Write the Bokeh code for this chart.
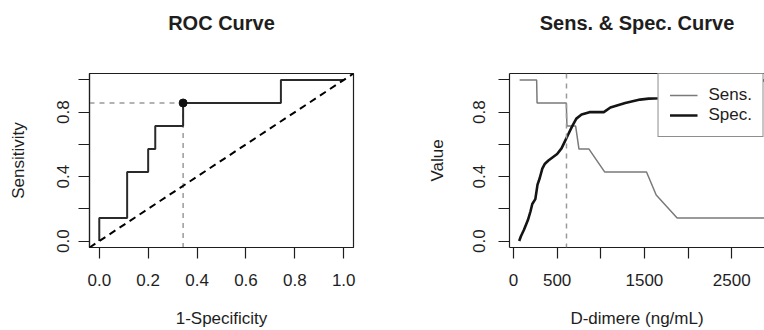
from bokeh.plotting import figure
from bokeh.layouts import row
from bokeh.models import (Range1d, FixedTicker, LinearAxis, Slope, Span,
                          CustomJSTickFormatter)
from bokeh.embed import file_html
from bokeh.resources import INLINE

FONT = "Liberation Sans"
INK = "#1e1e1e"

# ---------------- data ----------------
# ROC curve (1 - specificity, sensitivity)
roc_fpr = [0.0, 0.0, 0.114, 0.200, 0.229, 0.343, 0.743, 1.0]
roc_tpr = [0.0, 0.143, 0.429, 0.571, 0.714, 0.857, 1.0, 1.0]
opt_fpr = 0.343
opt_tpr = 0.857

# Sensitivity / specificity versus D-dimere threshold
sens_x = [70, 265, 270, 605, 612, 712, 750, 865, 1044, 1524, 1635, 1875, 2900]
sens_y = [1.0, 1.0, 0.857, 0.857, 0.714, 0.714, 0.571, 0.571, 0.429, 0.429,
          0.286, 0.143, 0.143]
spec_x = [65, 85, 120, 165, 195, 215, 250, 275, 300, 330, 360, 400, 450, 500,
          550, 590, 625, 670, 720, 780, 870, 1035, 1110, 1280, 1450, 1550,
          1680, 1950, 2300, 2600, 2900]
spec_y = [0.0, 0.03, 0.07, 0.13, 0.185, 0.23, 0.26, 0.35, 0.39, 0.45, 0.48,
          0.50, 0.52, 0.54, 0.575, 0.62, 0.66, 0.71, 0.76, 0.785, 0.80, 0.80,
          0.829, 0.857, 0.878, 0.884, 0.886, 0.914, 0.943, 0.971, 1.0]
cutoff = 607

# titles, ticks, labels
roc_title = "ROC Curve"
ss_title = "Sens. & Spec. Curve"
unit_ticks = [0.0, 0.2, 0.4, 0.6, 0.8, 1.0]
unit_labels = ["0.0", "0.2", "0.4", "0.6", "0.8", "1.0"]
unit_y_major = [0.0, 0.4, 0.8]          # labelled y ticks
unit_y_minor = [0.2, 0.6, 1.0]          # unlabelled y ticks
dd_major = [0, 500, 1500, 2500]         # labelled x ticks
dd_minor = [1000, 2000, 3000]           # unlabelled x ticks
dd_labels = ["0", "500", "1500", "2500"]

# ranges
roc_x_lo, roc_x_hi = -0.04, 1.04
val_y_lo, val_y_hi = -0.04, 1.04
dd_x_lo, dd_x_hi = -46, 2876


def fmt(vals, labs):
    return CustomJSTickFormatter(args=dict(vals=vals, labs=labs), code="""
        for (let i = 0; i < vals.length; i++) {
            if (Math.abs(vals[i] - tick) < 1e-6) return labs[i];
        }
        return String(tick);
    """)


def style_axis(ax, label_standoff, axis_label_standoff):
    ax.axis_line_color = INK
    ax.axis_line_width = 1.2
    ax.major_tick_line_color = INK
    ax.major_tick_line_width = 1.2
    ax.major_tick_out = 11
    ax.major_tick_in = 0
    ax.minor_tick_line_color = INK
    ax.minor_tick_line_width = 1.2
    ax.minor_tick_out = 11
    ax.minor_tick_in = 0
    ax.major_label_text_font = FONT
    ax.major_label_text_font_size = "17px"
    ax.major_label_text_color = INK
    ax.major_label_standoff = label_standoff
    ax.axis_label_text_font = FONT
    ax.axis_label_text_font_size = "17px"
    ax.axis_label_text_font_style = "normal"
    ax.axis_label_text_color = INK
    ax.axis_label_standoff = axis_label_standoff


def base_fig(width, x_lo, x_hi, title, border_right):
    p = figure(width=width, height=330, x_range=Range1d(x_lo, x_hi),
               y_range=Range1d(val_y_lo, val_y_hi),
               output_backend="svg", toolbar_location=None,
               min_border_left=89, min_border_right=border_right,
               min_border_top=73, min_border_bottom=79)
    p.xgrid.visible = False
    p.ygrid.visible = False
    p.background_fill_color = "white"
    p.border_fill_color = "white"
    p.outline_line_color = None
    # top frame edge; its single label (at the frame centre) is the title
    top = LinearAxis(ticker=FixedTicker(ticks=[(x_lo + x_hi) / 2]),
                     formatter=CustomJSTickFormatter(args=dict(t=title),
                                                     code="return t;"),
                     major_label_text_font=FONT,
                     major_label_text_font_size="20px",
                     major_label_text_font_style="bold",
                     major_label_text_color=INK,
                     major_label_standoff=40, major_tick_out=0,
                     major_tick_in=0, major_tick_line_color=None,
                     minor_tick_out=0, minor_tick_in=0,
                     minor_tick_line_color=None,
                     axis_line_color=INK, axis_line_width=1.2)
    p.add_layout(top, "above")
    return p


# ---------------- left: ROC curve ----------------
p1 = base_fig(420, roc_x_lo, roc_x_hi, roc_title, 67)
p1.outline_line_color = INK
p1.outline_line_width = 1.2

p1.below[0].ticker = FixedTicker(ticks=unit_ticks)
p1.below[0].formatter = fmt(unit_ticks, unit_labels)
p1.below[0].axis_label = "1-Specificity"
p1.left[0].ticker = FixedTicker(ticks=unit_y_major, minor_ticks=unit_y_minor)
p1.left[0].formatter = fmt(unit_ticks, unit_labels)
p1.left[0].axis_label = "Sensitivity"
p1.left[0].major_label_orientation = "vertical"
style_axis(p1.below[0], 15, 20)
style_axis(p1.left[0], 9, 27)

p1.add_layout(Slope(gradient=1, y_intercept=0, line_color="black",
                    line_width=2, line_dash="7 5"))
p1.segment(x0=[roc_x_lo, opt_fpr], y0=[opt_tpr, opt_tpr],
           x1=[opt_fpr, opt_fpr], y1=[opt_tpr, val_y_lo],
           line_color="#9a9a9a", line_width=1.5, line_dash="5 5")
p1.step(roc_fpr, roc_tpr, mode="after", line_color="#2a2a2a", line_width=2)
p1.scatter([opt_fpr], [opt_tpr], size=8, color="#111111")

# ---------------- right: Sens & Spec curve ----------------
p2 = base_fig(344, dd_x_lo, dd_x_hi, ss_title, 0)

p2.below[0].ticker = FixedTicker(ticks=dd_major, minor_ticks=dd_minor)
p2.below[0].formatter = fmt(dd_major, dd_labels)
p2.below[0].axis_label = "D-dimere (ng/mL)"
p2.left[0].ticker = FixedTicker(ticks=unit_y_major, minor_ticks=unit_y_minor)
p2.left[0].formatter = fmt(unit_ticks, unit_labels)
p2.left[0].axis_label = "Value"
p2.left[0].major_label_orientation = "vertical"
style_axis(p2.below[0], 15, 20)
style_axis(p2.left[0], 13, 24)

p2.add_layout(Span(location=cutoff, dimension="height", line_color="#9a9a9a",
                   line_width=1.5, line_dash="5 5"))
p2.line(sens_x, sens_y, line_color="#7a7a7a", line_width=1.5,
        legend_label="Sens.")
p2.line(spec_x, spec_y, line_color="#141414", line_width=2.6,
        legend_label="Spec.")

lg = p2.legend[0]
lg.location = "top_right"
lg.margin = 0
lg.padding = 11
lg.spacing = 0
lg.glyph_width = 28
lg.glyph_height = 20
lg.label_height = 20
lg.label_standoff = 11
lg.label_text_font = FONT
lg.label_text_font_size = "17px"
lg.label_text_color = INK
lg.border_line_color = INK
lg.border_line_width = 1.2
lg.background_fill_alpha = 1.0

layout = row(p1, p2)
open("out.html", "w").write(file_html(layout, INLINE))
